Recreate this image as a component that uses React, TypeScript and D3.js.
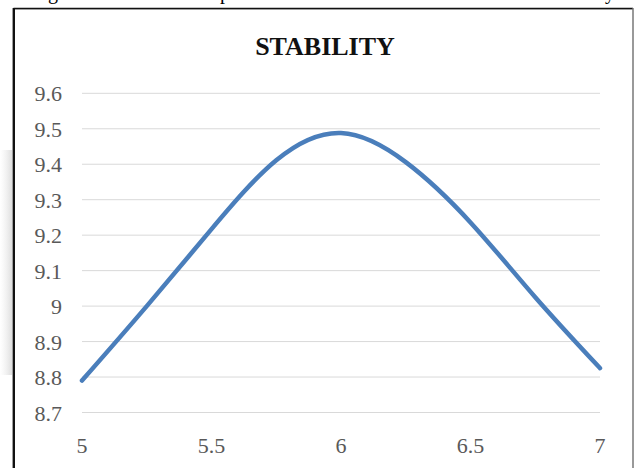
import React from "react";
import * as d3 from "d3";

// Stability score measured across the parameter range
const xValues = [5, 5.25, 5.5, 5.75, 6, 6.25, 6.5, 6.75, 7];
const stability = [8.79, 9.0, 9.217, 9.411, 9.488, 9.406, 9.236, 9.025, 8.825];

const xTicks = [5, 5.5, 6, 6.5, 7];
const yTicks = [8.7, 8.8, 8.9, 9, 9.1, 9.2, 9.3, 9.4, 9.5, 9.6];

const chartTitle = "STABILITY";

const W = 636;
const H = 468;
const FONT = "'Liberation Serif', 'Times New Roman', serif";

export default function App() {
  const x = d3.scaleLinear().domain([5, 7]).range([82, 600]);
  const y = d3.scaleLinear().domain([8.7, 9.6]).range([412.5, 93.3]);

  const line = d3
    .line<number>()
    .x((_, i) => x(xValues[i]))
    .y((d) => y(d))
    .curve(d3.curveNatural);

  const path = line(stability) ?? "";

  return (
    <div style={{ position: "fixed", left: 0, top: 0 }}>
      <svg width={W} height={H} style={{ display: "block", background: "#fff" }}>
        <defs>
          <linearGradient id="edgeShade" x1="0" y1="0" x2="1" y2="0">
            <stop offset="0" stopColor="#ffffff" stopOpacity={0.6} />
            <stop offset="1" stopColor="#d6d6d6" stopOpacity={1} />
          </linearGradient>
        </defs>

        {/* tail of the preceding text line */}
        <g fontFamily={FONT} fontSize={20} fill="#000">
          <text x={53} y={-1} textAnchor="middle">g</text>
          <text x={225} y={-1} textAnchor="middle">p</text>
          <text x={610} y={-1} textAnchor="middle">y</text>
        </g>

        {/* shaded page margin */}
        <rect x={0} y={150} width={12} height={225} fill="url(#edgeShade)" opacity={0.8} />

        {/* chart frame */}
        <line x1={13.5} y1={9} x2={633} y2={9} stroke="#9a9a9a" strokeWidth={1} />
        <line x1={13.5} y1={8.5} x2={633} y2={8.5} stroke="#111" strokeWidth={1.5} />
        <line x1={13.8} y1={8} x2={13.8} y2={H} stroke="#111" strokeWidth={2.4} />
        <line x1={633} y1={8} x2={633} y2={H} stroke="#777" strokeWidth={1.5} />

        {/* title */}
        <text
          x={325}
          y={55}
          textAnchor="middle"
          fontFamily={FONT}
          fontWeight="bold"
          fontSize={26}
          fill="#111"
        >
          {chartTitle}
        </text>

        {/* horizontal gridlines */}
        <g stroke="#d9d9d9" strokeWidth={1}>
          {yTicks.map((t) => (
            <line key={t} x1={x(5)} x2={x(7)} y1={y(t)} y2={y(t)} />
          ))}
        </g>

        {/* y tick labels */}
        <g fontFamily={FONT} fontSize={22} fill="#595959" textAnchor="end">
          {yTicks.map((t) => (
            <text key={t} x={62} y={y(t) + 8}>
              {d3.format("")(+t.toFixed(1))}
            </text>
          ))}
        </g>

        {/* x tick labels */}
        <g fontFamily={FONT} fontSize={22} fill="#595959" textAnchor="middle">
          {xTicks.map((t) => (
            <text key={t} x={x(t)} y={453}>
              {String(t)}
            </text>
          ))}
        </g>

        {/* stability curve */}
        <path
          d={path}
          fill="none"
          stroke="#4a7ebb"
          strokeWidth={4.5}
          strokeLinecap="round"
          strokeLinejoin="round"
        />
      </svg>
    </div>
  );
}
